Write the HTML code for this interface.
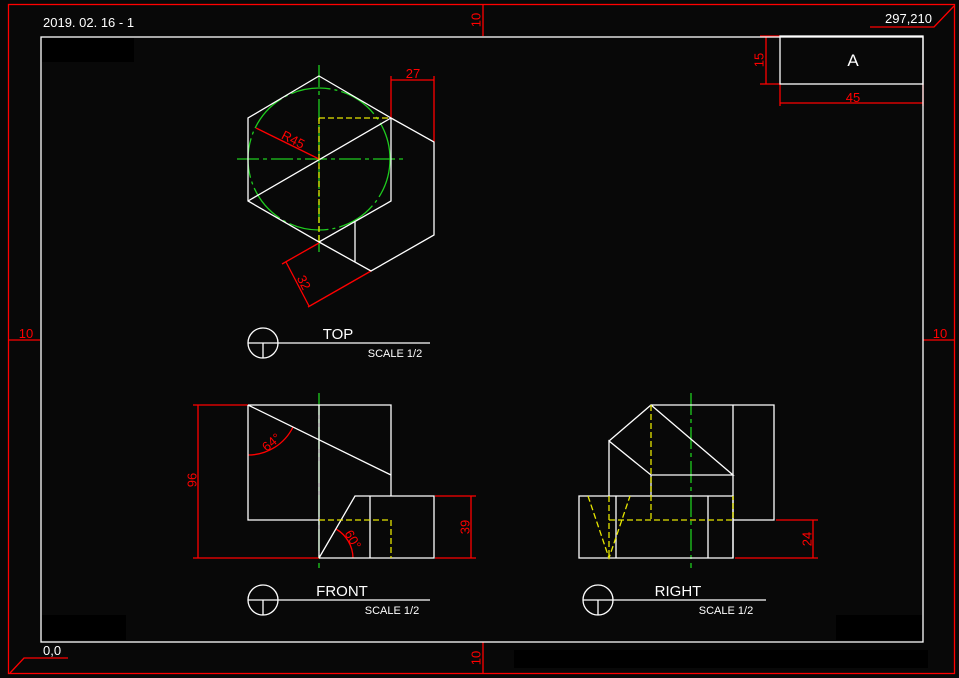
<!DOCTYPE html>
<html><head><style>
html,body{margin:0;padding:0;background:#080808;}
svg{display:block;}
text{font-family:"Liberation Sans",sans-serif;}
</style></head><body>
<svg width="959" height="678" viewBox="0 0 959 678" xmlns="http://www.w3.org/2000/svg">
<rect width="959" height="678" fill="#080808"/>
<rect x="42" y="38" width="92" height="24" fill="#000"/>
<rect x="42" y="615" width="84" height="25" fill="#000"/>
<rect x="836" y="615" width="86" height="25" fill="#000"/>
<rect x="514" y="650" width="414" height="18" fill="#000"/>
<g fill="none" stroke="#1fcc1f" stroke-width="1.3">
<circle cx="319" cy="159" r="71" stroke-dasharray="40 4 3 4"/>
<path d="M237 159H403M319 65V252M319 393V568M691 393V568" stroke-dasharray="22 4 4 4"/>
</g>
<g fill="none" stroke="#f00" stroke-width="1.3">
<rect x="8.5" y="4.5" width="946" height="669"/>
<path d="M870 27H934L954 6M68 658H24L10 673"/>
<path d="M483 4V36M483 642V674M8 340H40M923 340H955"/>
<path d="M766 36V84M760 36H780M760 84H780M780 84V106M923 84V106M780 103H923"/>
<path d="M256 128L319 159"/>
<path d="M391 118V76M434 142V76M391 80H434"/>
<path d="M319 243L282 264M371 271L308 307M286 262L309 306"/>
<path d="M193 405H248M193 558H319M198 405V558"/>
<path d="M435 496H476M435 558H476M471 496V558"/>
<path d="M248 455A50 50 0 0 0 293 427"/>
<path d="M336 529A34 34 0 0 1 353 558"/>
<path d="M776 520H818M735 558H818M813 520V558"/>
</g>
<g fill="none" stroke="#fff" stroke-width="1.3">
<rect x="41" y="37" width="882" height="605"/>
<rect x="780" y="36" width="143" height="48"/>
<path d="M319 76L391 118V201L319 242L248 201V118Z"/>
<path d="M248 201L391 118M391 118L434 142V235L371 271L319 242M355 222V262"/>
<path d="M248 405H391V496M248 405V520H319M248 405L391 475M319 405V558"/>
<path d="M319 558L355 496H434V558H319M370 496V558"/>
<path d="M651 405H774V520H733M733 405V558M609 441L651 405L733 475H651L609 441V496M651 475V496"/>
<path d="M579 496H733V558H579ZM616 496V558M708 496V558"/>
<circle cx="263" cy="343" r="15"/><path d="M248 343H430M263 343V358"/>
<circle cx="263" cy="600" r="15"/><path d="M248 600H430M263 600V615"/>
<circle cx="598" cy="600" r="15"/><path d="M583 600H766M598 600V615"/>
</g>
<g fill="none" stroke="#e6e600" stroke-width="1.3" stroke-dasharray="6 3">
<path d="M319 118H391M319 118V242"/>
<path d="M319 520H391V558"/>
<path d="M651 405V520M609 520H733V496M609 496V558M588 496L609 558L630 496"/>
</g>
<g fill="#f00" font-size="13">
<text x="477" y="20" transform="rotate(-90 477 20)" text-anchor="middle" dominant-baseline="middle">10</text>
<text x="477" y="658" transform="rotate(-90 477 658)" text-anchor="middle" dominant-baseline="middle">10</text>
<text x="26" y="338" text-anchor="middle">10</text>
<text x="940" y="338" text-anchor="middle">10</text>
<text x="760" y="60" transform="rotate(-90 760 60)" text-anchor="middle" dominant-baseline="middle">15</text>
<text x="853" y="102" text-anchor="middle">45</text>
<text x="413" y="78" text-anchor="middle">27</text>
<text x="293" y="144" transform="rotate(27 293 140)" text-anchor="middle">R45</text>
<text x="303" y="283" transform="rotate(63 303 283)" text-anchor="middle" dominant-baseline="middle">32</text>
<text x="193" y="480" transform="rotate(-90 193 480)" text-anchor="middle" dominant-baseline="middle">96</text>
<text x="466" y="527" transform="rotate(-90 466 527)" text-anchor="middle" dominant-baseline="middle">39</text>
<text x="808" y="539" transform="rotate(-90 808 539)" text-anchor="middle" dominant-baseline="middle">24</text>
<text x="272" y="443" transform="rotate(-40 272 443)" text-anchor="middle" dominant-baseline="middle">64°</text>
<text x="352" y="540" transform="rotate(60 352 540)" text-anchor="middle" dominant-baseline="middle">60°</text>
</g>
<g fill="#fff">
<text x="43" y="27" font-size="13">2019. 02. 16 - 1</text>
<text x="932" y="23" font-size="13" text-anchor="end">297,210</text>
<text x="43" y="655" font-size="13">0,0</text>
<text x="853" y="66" font-size="17" text-anchor="middle">A</text>
<text x="338" y="339" font-size="15" text-anchor="middle">TOP</text>
<text x="395" y="357" font-size="11" text-anchor="middle">SCALE 1/2</text>
<text x="342" y="596" font-size="15" text-anchor="middle">FRONT</text>
<text x="392" y="614" font-size="11" text-anchor="middle">SCALE 1/2</text>
<text x="678" y="596" font-size="15" text-anchor="middle">RIGHT</text>
<text x="726" y="614" font-size="11" text-anchor="middle">SCALE 1/2</text>
</g>
</svg>
</body></html>
